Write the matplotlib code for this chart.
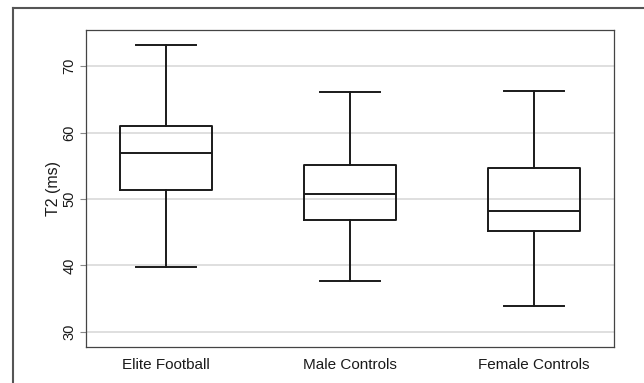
import matplotlib
matplotlib.use("Agg")
import matplotlib.pyplot as plt
from matplotlib.lines import Line2D

plt.rcParams['font.family'] = ['Liberation Sans', 'DejaVu Sans']

groups = ["Elite Football", "Male Controls", "Female Controls"]
whisker_low = [39.8, 37.7, 33.9]
q1 = [51.3, 46.8, 45.2]
median = [56.9, 50.8, 48.2]
q3 = [61.05, 55.1, 54.65]
whisker_high = [73.2, 66.1, 66.3]
yticks = [30, 40, 50, 60, 70]

stats = []
for i in range(len(groups)):
    stats.append({
        "label": groups[i],
        "whislo": whisker_low[i],
        "q1": q1[i],
        "med": median[i],
        "q3": q3[i],
        "whishi": whisker_high[i],
        "fliers": [],
    })

fig = plt.figure(figsize=(6.44, 3.83), dpi=100)
ax = fig.add_axes([86 / 644, 1 - 347 / 383, (614 - 86) / 644, (347 - 29.5) / 383])

line = dict(color="#1a1a1a", linewidth=1.4)
ax.bxp(stats, positions=[1, 2, 3], widths=0.5, showfliers=False,
       boxprops=line, medianprops=line, whiskerprops=line,
       capprops=line, capwidths=0.33)

ax.set_xlim(0.565, 3.435)
ax.set_ylim(27.74, 75.5)
ax.set_yticks(yticks)
ax.set_yticklabels([str(v) for v in yticks], rotation=90, va="center")
ax.yaxis.grid(True, color="#dcdcdc", linewidth=1.3)
ax.set_axisbelow(True)
ax.tick_params(axis="y", length=4, width=0.8, color="#888888",
               labelsize=10.5, labelcolor="#1a1a1a", pad=3)
ax.tick_params(axis="x", length=0, labelsize=11, labelcolor="#1a1a1a", pad=8)
ax.set_ylabel("T2 (ms)", fontsize=11.5, color="#1a1a1a", labelpad=1)
for s in ax.spines.values():
    s.set_color("#444444")
    s.set_linewidth(0.9)

# outer frame of the graph region
fig.add_artist(Line2D([13 / 644, 1], [1 - 7.5 / 383, 1 - 7.5 / 383],
                      transform=fig.transFigure, color="#555555", linewidth=1.5))
fig.add_artist(Line2D([13 / 644, 13 / 644], [0, 1 - 7.5 / 383],
                      transform=fig.transFigure, color="#555555", linewidth=1.5))

fig.savefig("out.png", dpi=100)
